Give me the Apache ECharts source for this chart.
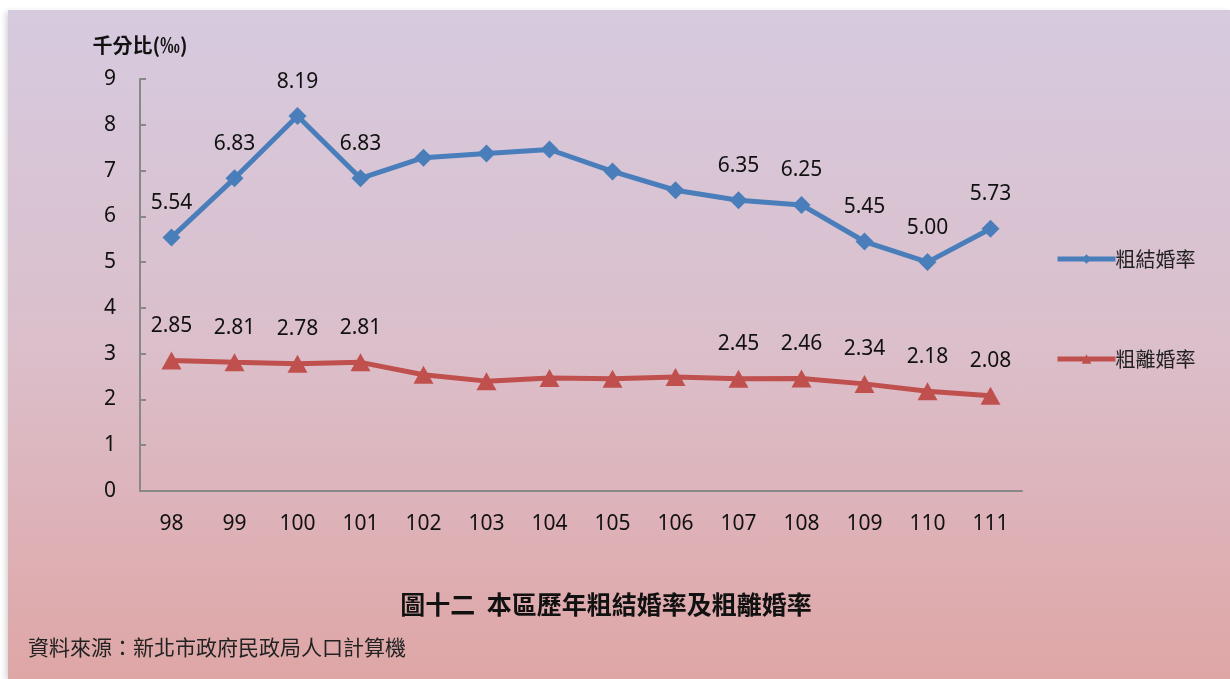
<!DOCTYPE html>
<html>
<head>
<meta charset="utf-8">
<style>
html, body {
    margin: 0;
    padding: 0;
    width: 1230px;
    height: 679px;
    background: #ffffff;
    overflow: hidden;
}
#chart {
    position: absolute;
    left: 8px;
    top: 10px;
    width: 1222px;
    height: 669px;
    background: linear-gradient(to bottom, #d6cadf 0%, #dbbfcb 50%, #dfa6a6 100%);
    box-shadow: -2px 2px 6px rgba(0, 0, 0, 0.18);
}
</style>
<script src="https://cdn.jsdelivr.net/npm/echarts@6/dist/echarts.min.js"></script>
</head>
<body>
<div id="chart"></div>
<script>
// 年度（民國）
const years = ['98', '99', '100', '101', '102', '103', '104', '105', '106', '107', '108', '109', '110', '111'];
// 粗結婚率 (‰)
const marriageRate = [5.54, 6.83, 8.19, 6.83, 7.28, 7.37, 7.46, 6.98, 6.57, 6.35, 6.25, 5.45, 5.00, 5.73];
// 粗離婚率 (‰)
const divorceRate = [2.85, 2.81, 2.78, 2.81, 2.54, 2.40, 2.47, 2.45, 2.49, 2.45, 2.46, 2.34, 2.18, 2.08];
// 有標示數值的年度
const marriageLabelled = ['98', '99', '100', '101', '107', '108', '109', '110', '111'];
const divorceLabelled = ['98', '99', '100', '101', '107', '108', '109', '110', '111'];
const yTicks = [0, 1, 2, 3, 4, 5, 6, 7, 8, 9];

const numFont = "'Noto Sans', 'Noto Sans CJK TC', sans-serif";
const cjkFont = "'Noto Sans CJK TC', sans-serif";

function buildData(values, labelled) {
    return values.map((v, i) => ({
        value: v,
        label: { show: labelled.indexOf(years[i]) !== -1 }
    }));
}

const chart = echarts.init(document.getElementById('chart'));

chart.setOption({
    backgroundColor: 'transparent',
    animation: false,
    title: [
        {
            text: '圖十二  本區歷年粗結婚率及粗離婚率',
            left: 593,
            top: 577,
            textAlign: 'center',
            textStyle: {
                fontFamily: cjkFont,
                fontSize: 25,
                fontWeight: 'bold',
                color: '#111'
            }
        },
        {
            text: '資料來源：新北市政府民政局人口計算機',
            left: 15,
            top: 622,
            textStyle: {
                fontFamily: cjkFont,
                fontSize: 21,
                fontWeight: 'normal',
                color: '#222'
            }
        }
    ],
    legend: {
        orient: 'vertical',
        left: 1042,
        top: 234,
        itemWidth: 58,
        itemHeight: 12,
        itemGap: 80,
        lineStyle: { width: 5 },
        textStyle: {
            fontFamily: cjkFont,
            fontSize: 20,
            color: '#222',
            padding: [0, 0, 0, -5]
        },
        data: ['粗結婚率', '粗離婚率']
    },
    grid: {
        left: 132,
        top: 69,
        width: 882,
        height: 412
    },
    xAxis: {
        type: 'category',
        data: years,
        axisLine: {
            lineStyle: { color: '#888', width: 2 }
        },
        axisTick: {
            inside: true,
            length: 6,
            lineStyle: { color: '#888', width: 2 }
        },
        axisLabel: {
            margin: 23,
            fontFamily: numFont,
            fontSize: 21,
            color: '#111'
        }
    },
    yAxis: {
        type: 'value',
        min: yTicks[0],
        max: yTicks[yTicks.length - 1],
        interval: 1,
        name: '千分比(‰)',
        nameGap: 24,
        nameTextStyle: {
            fontFamily: cjkFont,
            fontSize: 20,
            fontWeight: 'bold',
            color: '#111'
        },
        axisLine: {
            show: true,
            lineStyle: { color: '#888', width: 2 }
        },
        axisTick: {
            show: true,
            inside: true,
            length: 6,
            lineStyle: { color: '#888', width: 2 }
        },
        splitLine: { show: false },
        axisLabel: {
            margin: 24,
            fontFamily: numFont,
            fontSize: 21,
            color: '#111'
        }
    },
    series: [
        {
            name: '粗結婚率',
            type: 'line',
            data: buildData(marriageRate, marriageLabelled),
            symbol: 'diamond',
            symbolSize: 18,
            color: '#4a7ebb',
            lineStyle: { width: 5, color: '#4a7ebb' },
            itemStyle: { color: '#4a7ebb' },
            label: {
                position: 'top',
                distance: 15,
                fontFamily: numFont,
                fontSize: 21,
                color: '#111',
                formatter: p => p.value.toFixed(2)
            }
        },
        {
            name: '粗離婚率',
            type: 'line',
            data: buildData(divorceRate, divorceLabelled),
            symbol: 'triangle',
            symbolSize: [20, 18],
            color: '#c0504d',
            lineStyle: { width: 5, color: '#c0504d' },
            itemStyle: { color: '#c0504d' },
            label: {
                position: 'top',
                distance: 15,
                fontFamily: numFont,
                fontSize: 21,
                color: '#111',
                formatter: p => p.value.toFixed(2)
            }
        }
    ]
});
</script>
</body>
</html>
